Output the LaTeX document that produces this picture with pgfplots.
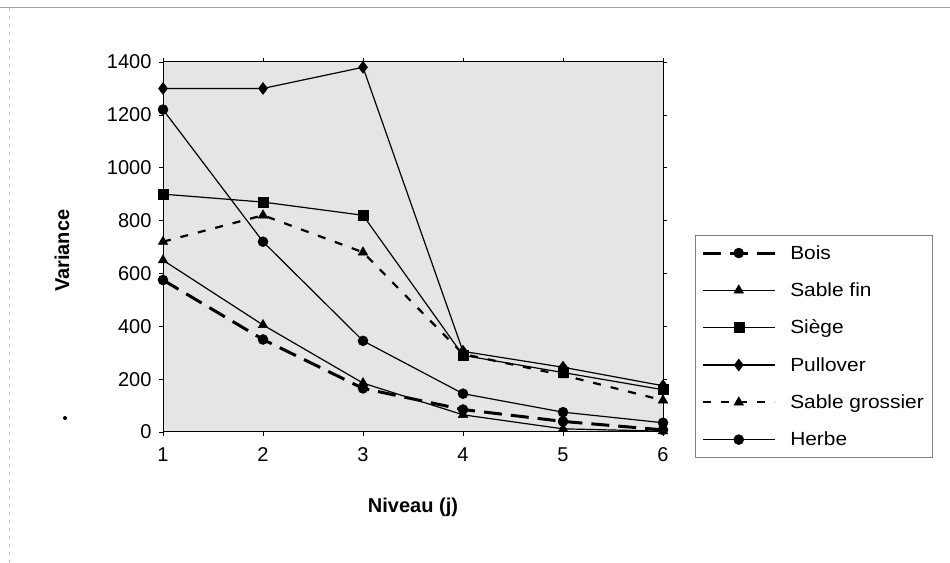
\documentclass[border=0pt]{standalone}
\usepackage{fontspec}
\setmainfont{Liberation Sans}
\newfontfamily\legfont{Liberation Sans}[FakeStretch=1.1]
\usepackage{pgfplots}
\pgfplotsset{compat=1.18}
\begin{document}
\begin{tikzpicture}[x=1pt,y=1pt]
\path[use as bounding box] (0,0) rectangle (950,562);
\draw[gray!70, line width=0.8pt] (0,555) -- (950,555);
\draw[gray!60, line width=0.5pt, dash pattern=on 2pt off 6pt] (9,0) -- (9,555);
\fill (65,144) circle (2pt);
\begin{axis}[
  at={(163pt,130pt)}, anchor=south west,
  width=500pt, height=370pt, scale only axis,
  xmin=1, xmax=6, ymin=0, ymax=1400,
  xtick={1,2,3,4,5,6},
  ytick={0,200,400,600,800,1000,1200,1400},
  tick align=outside, major tick length=4pt,
  tick style={black, line width=0.6pt},
  axis line style={black, line width=1pt},
  axis background/.style={fill=gray!20},
  /pgf/number format/assume math mode=true,
  /pgf/number format/1000 sep={},
  ticklabel style={font=\fontsize{20}{24}\selectfont},
  xticklabel style={yshift=-8pt},
  yticklabel style={xshift=-4pt},
  xlabel={Niveau (j)}, ylabel={Variance},
  every axis x label/.style={at={(axis description cs:0.5,-0.203)}, anchor=center, font=\fontsize{20}{24}\selectfont\bfseries},
  every axis y label/.style={at={(axis description cs:-0.202,0.49)}, rotate=90, anchor=center, font=\fontsize{20}{24}\selectfont\bfseries},
  legend style={at={(axis description cs:1.064,0.532)}, anchor=north west,
    draw=gray, line width=0.5pt, fill=white,
    font=\fontsize{19}{22}\legfont, row sep=18pt,
    inner xsep=6pt, inner ysep=8pt,
    nodes={inner sep=2pt}},
  legend cell align=left,
  legend image code/.code={\draw[mark repeat=2,mark phase=2] plot coordinates {(0pt,0pt) (36pt,0pt) (72pt,0pt)}; \path (84pt,0pt);},
  clip=false,
]
\addplot[black, line width=3pt, dash pattern=on 18pt off 9pt, mark=*, mark size=5pt, mark options={solid, line width=0.5pt}]
  coordinates {(1,575) (2,350) (3,165) (4,85) (5,40) (6,8)};
\addlegendentry{Bois}
\addplot[black, line width=1.2pt, mark=triangle*, mark size=5.5pt, mark options={solid, line width=0.5pt}]
  coordinates {(1,650) (2,405) (3,185) (4,65) (5,12) (6,3)};
\addlegendentry{Sable fin}
\addplot[black, line width=1.2pt, mark=square*, mark size=5pt, mark options={solid, line width=0.5pt}]
  coordinates {(1,900) (2,870) (3,820) (4,290) (5,225) (6,160)};
\addlegendentry{Siège}
\addplot[black, line width=1.2pt, mark=diamond*, mark size=6pt, mark options={solid, line width=0.5pt}]
  coordinates {(1,1300) (2,1300) (3,1380) (4,305) (5,245) (6,175)};
\addlegendentry{Pullover}
\addplot[black, line width=2.2pt, dash pattern=on 8pt off 10pt, mark=triangle*, mark size=5.5pt, mark options={solid, line width=0.5pt}]
  coordinates {(1,720) (2,820) (3,680) (4,295) (5,215) (6,120)};
\addlegendentry{Sable grossier}
\addplot[black, line width=1.2pt, mark=*, mark size=5pt, mark options={solid, line width=0.5pt}]
  coordinates {(1,1220) (2,720) (3,345) (4,145) (5,75) (6,35)};
\addlegendentry{Herbe}
\end{axis}
\end{tikzpicture}
\end{document}
